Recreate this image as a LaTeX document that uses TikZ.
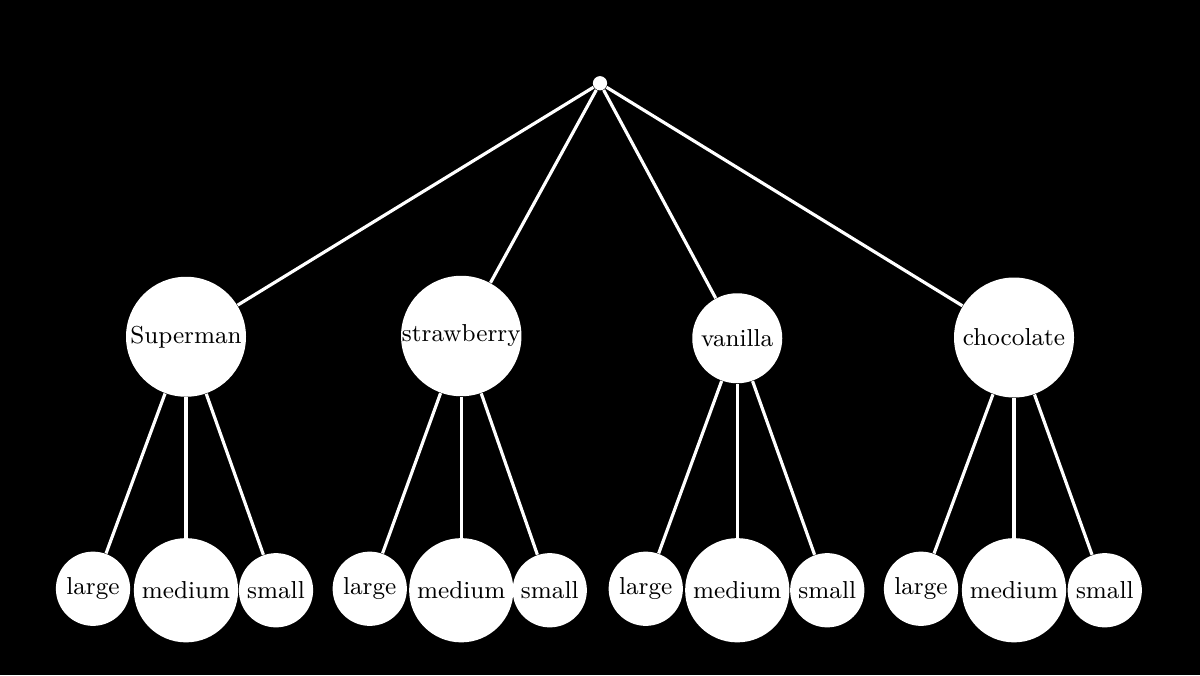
\documentclass[tikz,border=0pt]{standalone}
\usetikzlibrary{positioning}

\begin{document}
\begin{tikzpicture}[
    font=\fontsize{9.3}{11}\selectfont,
    flavour/.style={circle, fill=white, text=black, inner sep=0pt, minimum size=1.6cm},
    size/.style={circle, fill=white, text=black, inner sep=0pt, minimum size=0.99cm},
    edge/.style={draw=white, line width=1.2pt}
  ]
    \fill[black] (0,0) rectangle (16,9);
    \useasboundingbox (0,0) rectangle (16,9);

    % root
    \node[circle, fill=white, inner sep=0pt, minimum size=0.19cm] (root) at (8,7.89) {};

    % flavours
    \node[flavour] (superman)   at (2.48,4.51)  {Superman};
    \node[flavour] (strawberry) at (6.15,4.52)  {strawberry};
    \node[flavour, minimum size=1.2cm] (vanilla) at (9.83,4.49) {vanilla};
    \node[flavour] (chocolate)  at (13.52,4.50) {chocolate};

    % sizes
    \node[size] (superman-large)  at (1.24,1.15)  {large};
    \node[size, minimum size=1.39cm] (superman-medium) at (2.48,1.13) {medium};
    \node[size] (superman-small)  at (3.68,1.13)  {small};

    \node[size] (strawberry-large)  at (4.93,1.15)  {large};
    \node[size, minimum size=1.39cm] (strawberry-medium) at (6.15,1.13) {medium};
    \node[size] (strawberry-small)  at (7.33,1.13)  {small};

    \node[size] (vanilla-large)  at (8.61,1.15)  {large};
    \node[size, minimum size=1.39cm] (vanilla-medium) at (9.83,1.13) {medium};
    \node[size] (vanilla-small)  at (11.03,1.13) {small};

    \node[size] (chocolate-large)  at (12.28,1.15) {large};
    \node[size, minimum size=1.39cm] (chocolate-medium) at (13.52,1.13) {medium};
    \node[size] (chocolate-small)  at (14.73,1.13) {small};

    % edges
    \draw[edge] (root) -- (superman);
    \draw[edge] (root) -- (strawberry);
    \draw[edge] (root) -- (vanilla);
    \draw[edge] (root) -- (chocolate);

    \draw[edge] (superman) -- (superman-large);
    \draw[edge] (superman) -- (superman-medium);
    \draw[edge] (superman) -- (superman-small);

    \draw[edge] (strawberry) -- (strawberry-large);
    \draw[edge] (strawberry) -- (strawberry-medium);
    \draw[edge] (strawberry) -- (strawberry-small);

    \draw[edge] (vanilla) -- (vanilla-large);
    \draw[edge] (vanilla) -- (vanilla-medium);
    \draw[edge] (vanilla) -- (vanilla-small);

    \draw[edge] (chocolate) -- (chocolate-large);
    \draw[edge] (chocolate) -- (chocolate-medium);
    \draw[edge] (chocolate) -- (chocolate-small);

  \end{tikzpicture}
\end{document}
